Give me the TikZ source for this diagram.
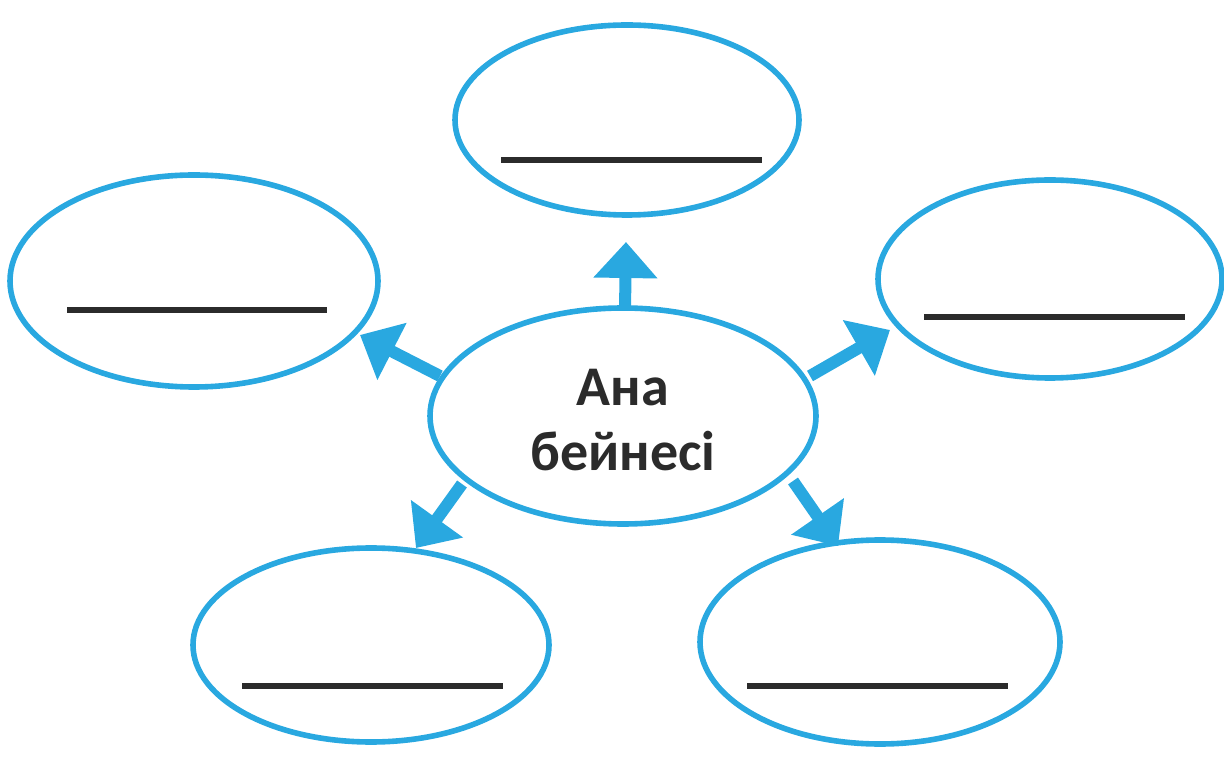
\documentclass[tikz,border=0pt]{standalone}
\usepackage{fontspec}
\setmainfont{Carlito}
\usetikzlibrary{arrows.meta,shapes.geometric}
\definecolor{skyb}{HTML}{29A8E0}
\definecolor{ink}{HTML}{2B2B2B}
\tikzset{
  bubble/.style={draw=skyb, line width=2.8pt, ellipse, inner sep=0pt, outer sep=0pt},
  blank/.style={draw=ink, line width=3.3pt},
  arr/.style={draw=skyb, line width=6pt, -{Triangle[width=31pt,length=18pt]}},
}
\begin{document}
\begin{tikzpicture}[x=0.5pt,y=-0.5pt]
\useasboundingbox (0,0) rectangle (1224,763);
\node[bubble, minimum width=344pt*0.5, minimum height=190pt*0.5] (t) at (627,120) {};
\node[bubble, minimum width=368pt*0.5, minimum height=212pt*0.5] (l) at (194,281) {};
\node[bubble, minimum width=344pt*0.5, minimum height=198pt*0.5] (r) at (1050,279) {};
\node[bubble, minimum width=386pt*0.5, minimum height=216pt*0.5] (c) at (623,416) {};
\node[bubble, minimum width=356pt*0.5, minimum height=194pt*0.5] (bl) at (371,645) {};
\node[bubble, minimum width=360pt*0.5, minimum height=204pt*0.5] (br) at (880,642) {};
\node[font=\bfseries\fontsize{28}{32.5}\selectfont, text=ink, align=center] (txt) at (623,420) {Ана\\бейнесі};
% blanks
\coordinate (t1) at (501,160); \coordinate (t2) at (762,160);
\coordinate (l1) at (67,310); \coordinate (l2) at (327,310);
\coordinate (r1) at (924,317); \coordinate (r2) at (1185,317);
\coordinate (bl1) at (242,686); \coordinate (bl2) at (503,686);
\coordinate (br1) at (747,686); \coordinate (br2) at (1008,686);
\draw[blank] (t1) -- (t2);
\draw[blank] (l1) -- (l2);
\draw[blank] (r1) -- (r2);
\draw[blank] (bl1) -- (bl2);
\draw[blank] (br1) -- (br2);
% arrows
\coordinate (at1) at (625,309); \coordinate (at2) at (626,242);
\coordinate (al1) at (440,376); \coordinate (al2) at (360,335);
\coordinate (ar1) at (810,376); \coordinate (ar2) at (890,330);
\coordinate (abl1) at (462,484); \coordinate (abl2) at (416,548);
\coordinate (abr1) at (793,481); \coordinate (abr2) at (838,546);
\draw[arr] (at1) -- (at2);
\draw[arr] (al1) -- (al2);
\draw[arr] (ar1) -- (ar2);
\draw[arr] (abl1) -- (abl2);
\draw[arr] (abr1) -- (abr2);
\end{tikzpicture}
\end{document}
